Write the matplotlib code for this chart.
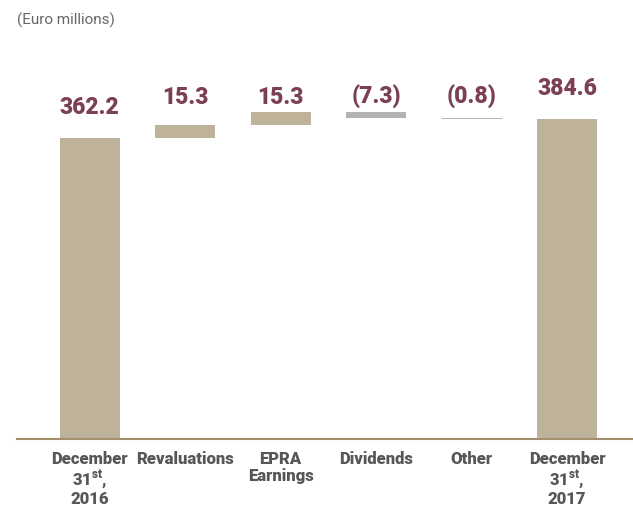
import matplotlib.pyplot as plt
import numpy as np

# NAV bridge, euro millions
categories = ["December\n31$^{\\mathbf{st}}$,\n2016", "Revaluations", "EPRA\nEarnings",
              "Dividends", "Other", "December\n31$^{\\mathbf{st}}$,\n2017"]
opening = 362.2
changes = [15.3, 15.3, -7.3, -0.8]
closing = 384.6
value_labels = ["362.2", "15.3", "15.3", "(7.3)", "(0.8)", "384.6"]

tan = "#bfb29b"
grey = "#b2b2b2"
maroon = "#7b3f56"
axis_col = "#a38f6b"

plt.rcParams["font.family"] = ["Roboto", "DejaVu Sans"]
plt.rcParams["mathtext.fontset"] = "custom"
plt.rcParams["mathtext.bf"] = "Roboto:black"

fig = plt.figure(figsize=(6.33, 5.06), dpi=100)
ax = fig.add_axes([0.027, 0.1304, 0.973, 0.751])

x = np.arange(len(categories))
w = 0.628

# running totals for the floating bars
starts = opening + np.concatenate([[0], np.cumsum(changes)[:-1]])
ends = starts + np.array(changes)

ax.bar(x[0], opening, width=w, color=tan)
ax.bar(x[-1], closing, width=w, color=tan)
for i, (s, c) in enumerate(zip(starts, changes)):
    ax.bar(x[i + 1], c, bottom=s, width=w, color=tan if c > 0 else grey)

label_kw = dict(ha="center", va="baseline", color=maroon, fontsize=16.5,
                fontweight="black", textcoords="offset points")
ax.annotate(value_labels[0], (x[0], opening), xytext=(0, 18), **label_kw)
ax.annotate(value_labels[-1], (x[-1], closing), xytext=(0, 18), **label_kw)
top = max(ends.max(), starts.max())
for i in range(len(changes)):
    ax.annotate(value_labels[i + 1], (x[i + 1], top), xytext=(0, 7), **label_kw)

ax.set_xlim(-0.759, 5.69)
ax.set_ylim(0, 457)
ax.set_xticks(x)
ax.set_xticklabels(categories, fontsize=12, fontweight="black", color="#575757",
                   linespacing=1.05)
ax.tick_params(axis="x", length=0, pad=8)
ax.set_yticks([])
for side in ["top", "right", "left"]:
    ax.spines[side].set_visible(False)
ax.spines["bottom"].set_color(axis_col)
ax.spines["bottom"].set_linewidth(1.5)

fig.text(0.027, 0.96, "(Euro millions)", fontsize=11, color="#666666", va="center")

fig.savefig("out.png", dpi=100)
